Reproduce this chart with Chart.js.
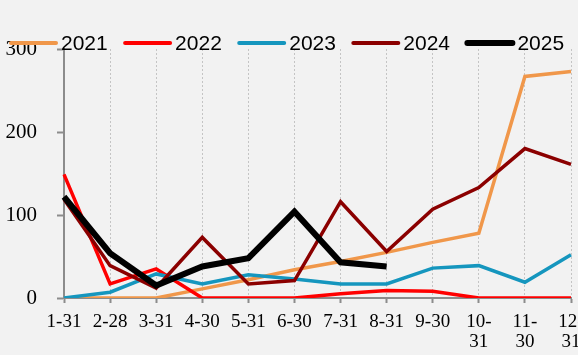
<!DOCTYPE html>
<html><head><meta charset="utf-8">
<script src="https://cdn.jsdelivr.net/npm/chart.js@4/dist/chart.umd.min.js"></script>
<style>html,body{margin:0;padding:0;overflow:hidden;background:#f2f2f2;}canvas{display:block;}</style>
</head><body>
<canvas id="c" width="600" height="355"></canvas>
<script>
const categories = [['1-31'],['2-28'],['3-31'],['4-30'],['5-31'],['6-30'],['7-31'],['8-31'],['9-30'],['10-','31'],['11-','30'],['12-','31']];
const seriesNames = ['2021','2022','2023','2024','2025'];
const v2021 = [0, 0, 0, 11, 22, 34, 44, 55, 67, 78, 267, 273];
const v2022 = [149, 17, 35, 0, 0, 0, 5, 9, 8, 0, 0, 0];
const v2023 = [0, 7, 29, 17, 28, 23, 17, 17, 36, 39, 19, 52];
const v2024 = [119, 39, 12, 73, 17, 21, 116, 56, 107, 133, 180, 161];
const v2025 = [122, 54, 15, 38, 48, 104, 43, 38];
const yTicks = [0, 100, 200, 300];

const colors = ['#F0974A', '#FF0000', '#1596BE', '#8B0000', '#000000'];
const widths = [3.5, 3.5, 3.5, 3.5, 6];
const values = [v2021, v2022, v2023, v2024, v2025];

const bgPlugin = {id:'bg', beforeDraw(chart){const c=chart.ctx;c.save();c.fillStyle='#f2f2f2';c.fillRect(0,0,chart.width,chart.height);c.restore();}};
const legendPlugin = {id:'lg', afterDraw(chart){
  const ctx = chart.ctx; ctx.save();
  chart.data.datasets.forEach((ds,i)=>{
    const x = 10 + i*114.1, y = 43;
    ctx.strokeStyle = ds.borderColor; ctx.lineWidth = i===4?6:4; ctx.lineCap='round';
    ctx.beginPath(); ctx.moveTo(x+1,y); ctx.lineTo(x+46,y); ctx.stroke();
    ctx.fillStyle='#000'; ctx.font='21px "Liberation Sans", Arial, sans-serif'; ctx.textBaseline='middle'; ctx.textAlign='left';
    ctx.fillText(ds.label, x+51, y+1);
  });
  ctx.restore();
}};

new Chart(document.getElementById('c'), {
  type: 'line',
  data: {
    labels: categories,
    datasets: seriesNames.map((n,i)=>({label:n, data: values[i], borderColor: colors[i], backgroundColor: colors[i], borderWidth: widths[i], pointRadius:0, tension:0, fill:false, order: 5-i, borderJoinStyle:'miter'}))
  },
  options: {
    responsive: false, animation: false,
    layout: {autoPadding:false, padding:{top:49, right:29, left:0, bottom:0}},
    plugins: {legend:{display:false}, tooltip:{enabled:false}},
    scales: {
      x: {
        type:'category', offset:false,
        afterFit(s){ s.height = 57; },
        grid: {color:'#c4c4c4', lineWidth:1, drawOnChartArea:true, drawTicks:true, tickLength:5, tickColor:'#8c8c8c', tickWidth:2, tickBorderDash:[]},
        border: {display:true, color:'#8c8c8c', width:2, dash:[2,2]},
        ticks: {color:'#000', font:{family:'"Liberation Serif", "Times New Roman", serif', size:19, lineHeight:1.05}, padding:9, maxRotation:0, autoSkip:false}
      },
      y: {
        min:0, max:300,
        afterFit(s){ s.width = 64; },
        afterBuildTicks(s){ s.ticks = yTicks.map(v=>({value:v})); },
        grid: {drawOnChartArea:false, drawTicks:true, tickLength:7, tickColor:'#8c8c8c', tickWidth:2},
        border: {display:true, color:'#8c8c8c', width:2},
        ticks: {color:'#000', font:{family:'"Liberation Serif", "Times New Roman", serif', size:21}, padding:20}
      }
    }
  },
  plugins: [bgPlugin, legendPlugin]
});
</script>
</body></html>
